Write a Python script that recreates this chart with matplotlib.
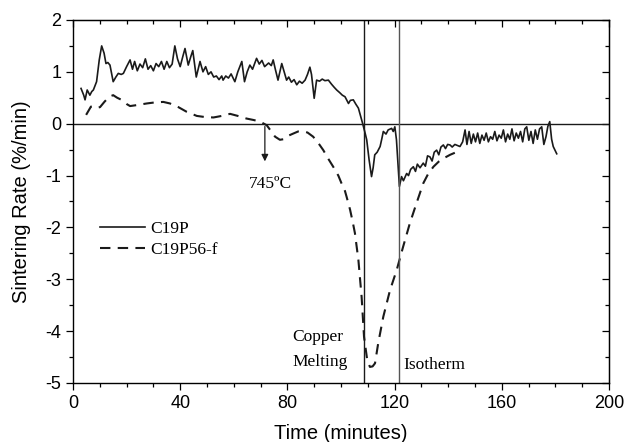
import matplotlib
matplotlib.use("Agg")
import matplotlib.pyplot as plt
from matplotlib.ticker import MultipleLocator

plt.rcParams['axes.unicode_minus'] = False
plt.rcParams['font.family'] = ['Liberation Sans', 'DejaVu Sans']

# C19P (solid)
t_c19p = [3.0, 4.0, 4.5, 5.3, 6.3, 7.0, 7.6, 8.8, 9.8, 10.7, 11.6, 12.3, 13.0, 13.8, 15.0,
          16.0, 16.9, 18.0, 18.8, 20.0, 21.3, 22.2, 23.0, 24.0, 25.0, 26.0, 27.0, 28.0,
          29.0, 30.0, 31.0, 32.0, 33.0, 34.0, 35.0, 36.0, 37.0, 38.0, 39.0, 40.0, 41.0,
          41.8, 43.0, 44.0, 44.7, 46.0, 47.4, 48.5, 49.5, 50.5, 51.5, 52.5, 53.5, 54.5,
          55.5, 56.0, 57.0, 58.0, 59.0, 60.4, 61.5, 63.0, 64.0, 65.0, 66.0, 67.0, 68.5,
          69.5, 70.5, 71.5, 73.0, 74.0, 74.7, 75.5, 76.5, 77.9, 78.8, 79.7, 80.5, 81.5,
          82.5, 83.5, 84.5, 85.5, 86.6, 87.5, 88.4, 89.0, 90.0, 90.9, 92.0, 93.0, 94.0,
          95.3, 96.5, 97.5, 98.4, 99.5, 100.5, 101.5, 102.8, 103.5, 104.6, 105.5, 106.5,
          107.3, 108.1, 109.0, 109.6, 110.5, 111.4, 112.0, 112.6, 113.5, 114.6, 115.2,
          115.8, 116.8, 117.6, 118.9, 119.5, 120.1, 120.7, 121.3, 121.8, 122.6, 123.3,
          124.5, 125.2, 126.0, 127.0, 127.8, 128.5, 129.5, 130.7, 131.5, 132.3, 133.2,
          134.0, 134.8, 135.7, 136.5, 137.3, 138.2, 139.0, 139.8, 140.7, 141.5, 142.5,
          143.5, 144.4, 145.4, 146.3, 147.0, 147.8, 148.6, 149.4, 150.2, 151.0, 151.8,
          152.6, 153.4, 154.2, 155.0, 155.8, 156.6, 157.4, 158.2, 159.0, 159.8, 160.6,
          161.4, 162.2, 163.0, 163.8, 164.6, 165.4, 166.2, 167.0, 167.8, 168.6, 169.3,
          170.1, 170.9, 171.7, 172.5, 173.3, 174.1, 174.9, 175.7, 176.5, 177.2, 177.9,
          178.6, 179.2, 180.5]
r_c19p = [0.68, 0.55, 0.46, 0.65, 0.55, 0.62, 0.65, 0.81, 1.23, 1.50, 1.36, 1.16, 1.18, 1.13, 0.81,
          0.90, 0.97, 0.95, 0.97, 1.10, 1.23, 1.05, 1.20, 1.02, 1.15, 1.08, 1.25, 1.05,
          1.12, 1.02, 1.16, 1.10, 1.20, 1.05, 1.20, 1.08, 1.15, 1.50, 1.25, 1.10, 1.30,
          1.45, 1.13, 1.30, 1.41, 0.90, 1.20, 1.00, 1.10, 0.95, 1.00, 0.90, 0.92, 0.85,
          0.92, 0.84, 0.92, 0.88, 0.96, 0.81, 1.00, 1.20, 0.81, 1.00, 1.13, 1.05, 1.26,
          1.15, 1.22, 1.10, 1.17, 1.12, 1.23, 1.05, 0.84, 1.16, 1.00, 0.84, 0.90, 0.80,
          0.85, 0.75, 0.82, 0.78, 0.84, 0.95, 1.09, 0.95, 0.49, 0.84, 0.82, 0.86, 0.83,
          0.84, 0.76, 0.70, 0.65, 0.60, 0.55, 0.52, 0.39, 0.45, 0.46, 0.38, 0.30,
          0.15, 0.00, -0.18, -0.31, -0.70, -1.02, -0.85, -0.60, -0.55, -0.44, -0.30,
          -0.15, -0.20, -0.12, -0.09, -0.15, -0.06, -0.31, -0.80, -1.21, -1.02, -1.10,
          -0.96, -1.00, -0.88, -0.83, -0.92, -0.78, -0.85, -0.76, -0.82, -0.62, -0.64,
          -0.72, -0.55, -0.51, -0.60, -0.45, -0.41, -0.48, -0.40, -0.41, -0.45, -0.40,
          -0.42, -0.44, -0.35, -0.12, -0.40, -0.15, -0.38, -0.20, -0.35, -0.18, -0.38,
          -0.22, -0.32, -0.18, -0.35, -0.25, -0.30, -0.15, -0.33, -0.22, -0.28, -0.12,
          -0.35, -0.20, -0.30, -0.10, -0.33, -0.18, -0.28, -0.15, -0.35, -0.10, -0.06,
          -0.32, -0.15, -0.38, -0.12, -0.30, -0.10, -0.06, -0.40, -0.25, -0.05, 0.04,
          -0.30, -0.44, -0.58]

# C19P56-f (dashed)
t_c19p56 = [4.9, 6.7, 8.5, 10.1, 11.7, 13.5, 15.0, 16.5, 18.1, 20.0, 21.3, 24.0, 27.5, 30.5,
            33.7, 36.2, 39.3, 42.4, 46.2, 49.0, 52.4, 55.5, 58.6, 61.5, 64.7, 67.5, 69.8,
            72.3, 74.0, 75.4, 77.2, 78.5, 80.0, 82.2, 84.0, 85.9, 87.5, 89.6, 91.5, 93.4,
            95.3, 97.1, 99.0, 100.2, 101.5, 102.1, 103.4, 104.4, 105.2, 106.5, 107.7,
            108.6, 109.8, 110.8, 111.8, 112.7, 113.9, 115.8, 118.3, 120.8, 123.2, 125.7,
            128.2, 130.7, 132.5, 134.5, 136.5, 138.2, 140.7, 142.5]
r_c19p56 = [0.17, 0.33, 0.30, 0.32, 0.42, 0.52, 0.55, 0.50, 0.46, 0.38, 0.34, 0.36, 0.39, 0.41,
            0.42, 0.39, 0.32, 0.23, 0.15, 0.13, 0.12, 0.15, 0.19, 0.15, 0.10, 0.07, 0.04,
            -0.03, -0.15, -0.25, -0.31, -0.30, -0.24, -0.19, -0.15, -0.15, -0.17, -0.25, -0.37, -0.51,
            -0.68, -0.83, -1.00, -1.15, -1.30, -1.41, -1.66, -1.90, -2.11, -2.63, -3.34,
            -4.11, -4.56, -4.69, -4.68, -4.62, -4.23, -3.72, -3.21, -2.82, -2.37, -1.92,
            -1.53, -1.15, -0.97, -0.83, -0.73, -0.67, -0.60, -0.56]

t_melt = 108.5
t_iso = 121.5
t_745 = 71.6

serif = ['Liberation Serif', 'DejaVu Serif']

fig = plt.figure(figsize=(6.26, 4.42), dpi=100)
ax = fig.add_axes([0.1166, 0.1335, 0.8562, 0.8213])

ax.plot(t_c19p, r_c19p, color='#1a1a1a', lw=1.2, label='C19P')
ax.plot(t_c19p56, r_c19p56, color='#1a1a1a', lw=1.5, dashes=(5, 3.5), label='C19P56-f')

ax.axhline(0, color='#1a1a1a', lw=1.0)
ax.axvline(t_melt, color='#1a1a1a', lw=1.0)
ax.axvline(t_iso, color='#555555', lw=1.0)

ax.annotate('', xy=(t_745, -0.78), xytext=(t_745, 0.0),
            arrowprops=dict(arrowstyle='-|>', color='#1a1a1a', lw=0.9, mutation_scale=10))
ax.text(t_745 + 2.2, -1.17, '745ºC', family=serif, fontsize=12.5, ha='center', va='center')
ax.text(82, -4.11, 'Copper', family=serif, fontsize=12.5, ha='left', va='center')
ax.text(82, -4.60, 'Melting', family=serif, fontsize=12.5, ha='left', va='center')
ax.text(123.2, -4.65, 'Isotherm', family=serif, fontsize=12.5, ha='left', va='center')

leg = ax.legend(loc='upper left', bbox_to_anchor=(0.038, 0.465), frameon=False,
                prop={'family': serif, 'size': 12.5}, handlelength=2.6,
                handletextpad=0.3, labelspacing=0.25, borderaxespad=0)

ax.set_xlim(0, 200)
ax.set_ylim(-5, 2)
ax.xaxis.set_major_locator(MultipleLocator(40))
ax.xaxis.set_minor_locator(MultipleLocator(10))
ax.yaxis.set_major_locator(MultipleLocator(1))
ax.yaxis.set_minor_locator(MultipleLocator(0.5))
ax.tick_params(which='both', direction='out', labelsize=13, width=0.9)
ax.tick_params(which='major', length=5)
ax.tick_params(which='minor', length=3)

top = ax.secondary_xaxis('top')
top.xaxis.set_major_locator(MultipleLocator(40))
top.xaxis.set_minor_locator(MultipleLocator(10))
top.tick_params(which='both', direction='in', labeltop=False, width=0.9)
top.tick_params(which='major', length=5)
top.tick_params(which='minor', length=3)
right = ax.secondary_yaxis('right')
right.yaxis.set_major_locator(MultipleLocator(1))
right.yaxis.set_minor_locator(MultipleLocator(0.5))
right.tick_params(which='both', direction='in', labelright=False, width=0.9)
right.tick_params(which='major', length=5)
right.tick_params(which='minor', length=3)

for s in ax.spines.values():
    s.set_linewidth(1.0)

ax.set_xlabel('Time (minutes)', fontsize=14.5, labelpad=9)
ax.set_ylabel('Sintering Rate (%/min)', fontsize=14.5, labelpad=10)

fig.savefig('out.png', dpi=100)
